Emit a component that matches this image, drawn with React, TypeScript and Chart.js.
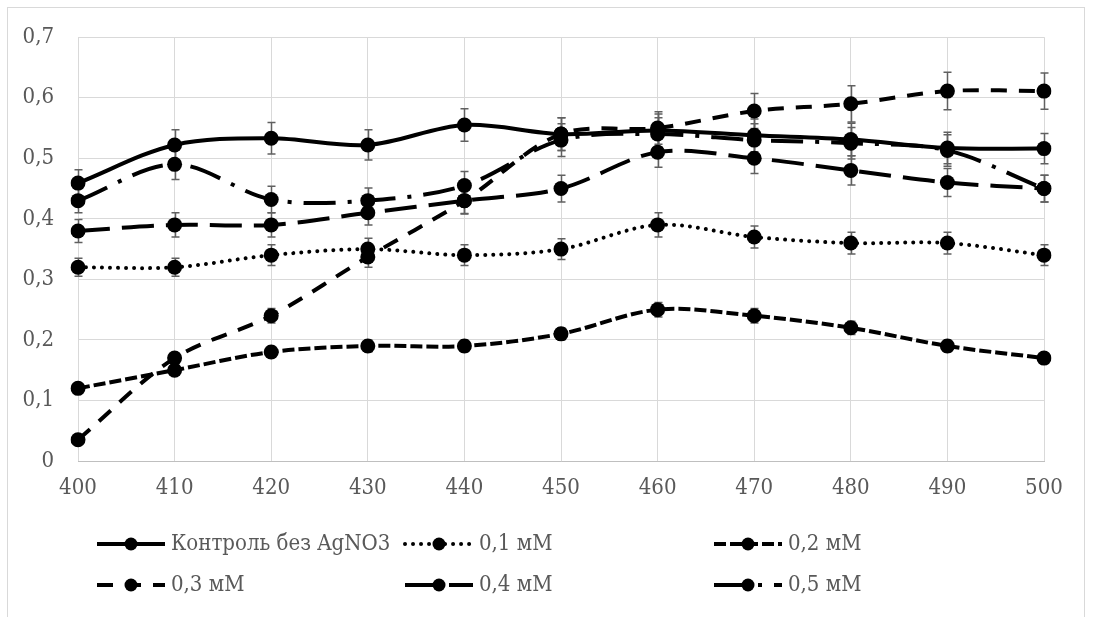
import React, { useEffect, useRef } from "react";
import { Chart, registerables } from "chart.js";

Chart.register(...registerables);

// ---------- data ----------
const wavelengths = ["400", "410", "420", "430", "440", "450", "460", "470", "480", "490", "500"];
const yTicks = [0, 0.1, 0.2, 0.3, 0.4, 0.5, 0.6, 0.7];

const seriesLabels = ["Контроль без AgNO3", "0,1 мМ", "0,2 мМ", "0,3 мМ", "0,4 мМ", "0,5 мМ"];

const control = [0.459, 0.522, 0.533, 0.522, 0.555, 0.54, 0.546, 0.538, 0.531, 0.517, 0.516];
const mM01 = [0.32, 0.32, 0.34, 0.35, 0.34, 0.35, 0.39, 0.37, 0.36, 0.36, 0.34];
const mM02 = [0.12, 0.15, 0.18, 0.19, 0.19, 0.21, 0.25, 0.24, 0.22, 0.19, 0.17];
const mM03 = [0.035, 0.17, 0.24, 0.337, 0.43, 0.54, 0.55, 0.578, 0.59, 0.611, 0.611];
const mM04 = [0.38, 0.39, 0.39, 0.41, 0.43, 0.45, 0.51, 0.5, 0.48, 0.46, 0.45];
const mM05 = [0.43, 0.49, 0.432, 0.43, 0.455, 0.53, 0.54, 0.53, 0.525, 0.513, 0.45];

const errControl = [0.022, 0.025, 0.026, 0.025, 0.027, 0.027, 0.027, 0.027, 0.027, 0.026, 0.025];
const err01 = [0.015, 0.015, 0.017, 0.018, 0.017, 0.017, 0.02, 0.018, 0.018, 0.018, 0.017];
const err02 = [0.006, 0.008, 0.009, 0.01, 0.01, 0.01, 0.012, 0.012, 0.011, 0.01, 0.009];
const err03 = [0.002, 0.008, 0.012, 0.017, 0.021, 0.027, 0.027, 0.029, 0.03, 0.031, 0.03];
const err04 = [0.019, 0.02, 0.02, 0.02, 0.022, 0.022, 0.025, 0.025, 0.024, 0.023, 0.022];
const err05 = [0.02, 0.025, 0.022, 0.021, 0.023, 0.027, 0.027, 0.027, 0.026, 0.026, 0.022];

const seriesValues = [control, mM01, mM02, mM03, mM04, mM05];
const seriesErrors = [errControl, err01, err02, err03, err04, err05];

// ---------- styles ----------
const LW = 4;
const dashes: number[][] = [
  [],
  [0.01, 8],
  [12, 4],
  [16, 12],
  [32, 12],
  [32, 12, 4, 12],
];
const caps = ["butt", "round", "butt", "butt", "butt", "butt"];
const FONT = "'DejaVu Serif Condensed', 'DejaVu Serif', serif";
const FONT_SIZE = 22;
const TEXT = "#595959";

const borderPlugin = {
  id: "outerBorder",
  beforeDraw(chart: any) {
    const ctx = chart.ctx;
    ctx.save();
    ctx.fillStyle = "#ffffff";
    ctx.fillRect(0, 0, chart.width, chart.height);
    ctx.strokeStyle = "#d9d9d9";
    ctx.lineWidth = 1;
    ctx.strokeRect(7.5, 7.5, 1077, 700);
    ctx.restore();
  },
};

const errorBarPlugin = {
  id: "errorBars",
  beforeDatasetsDraw(chart: any) {
    const ctx = chart.ctx;
    const y = chart.scales.y;
    chart.data.datasets.forEach((ds: any, i: number) => {
      const meta = chart.getDatasetMeta(i);
      const errs: number[] = ds.errors || [];
      meta.data.forEach((pt: any, j: number) => {
        const v = ds.data[j];
        const e = errs[j] || 0;
        if (!e) return;
        const x = Math.round(pt.x) + 0.5;
        const top = y.getPixelForValue(v + e);
        const bot = y.getPixelForValue(v - e);
        ctx.save();
        ctx.strokeStyle = "#606060";
        ctx.lineWidth = 1.5;
        ctx.beginPath();
        ctx.moveTo(x, top);
        ctx.lineTo(x, bot);
        ctx.moveTo(x - 4, top);
        ctx.lineTo(x + 4, top);
        ctx.moveTo(x - 4, bot);
        ctx.lineTo(x + 4, bot);
        ctx.stroke();
        ctx.restore();
      });
    });
  },
};

const legendPlugin = {
  id: "customLegend",
  afterDraw(chart: any) {
    const ctx = chart.ctx;
    const colX = [97, 405, 714];
    const rowY = [544, 585];
    const symW = 68;
    chart.data.datasets.forEach((ds: any, i: number) => {
      const x0 = colX[i % 3];
      const y = rowY[Math.floor(i / 3)];
      ctx.save();
      ctx.strokeStyle = ds.borderColor;
      ctx.lineWidth = ds.borderWidth;
      ctx.lineCap = ds.borderCapStyle;
      ctx.setLineDash(ds.borderDash || []);
      ctx.beginPath();
      ctx.moveTo(x0, y);
      ctx.lineTo(x0 + symW, y);
      ctx.stroke();
      ctx.setLineDash([]);
      ctx.fillStyle = ds.pointBackgroundColor;
      ctx.beginPath();
      ctx.arc(x0 + symW / 2, y, 6.5, 0, Math.PI * 2);
      ctx.fill();
      ctx.fillStyle = TEXT;
      ctx.font = `${FONT_SIZE}px ${FONT}`;
      ctx.textBaseline = "middle";
      ctx.textAlign = "left";
      ctx.fillText(ds.label, x0 + symW + 6, y);
      ctx.restore();
    });
  },
};

export default function App() {
  const ref = useRef<HTMLCanvasElement | null>(null);

  useEffect(() => {
    document.body.style.margin = "0";
    if (!ref.current) return;
    const datasets = seriesValues.map((vals, i) => ({
      label: seriesLabels[i],
      data: vals,
      errors: seriesErrors[i],
      borderColor: "#000000",
      backgroundColor: "#000000",
      borderWidth: LW,
      borderDash: dashes[i],
      borderCapStyle: caps[i],
      tension: 0.33,
      pointRadius: 7.5,
      pointBorderWidth: 0,
      pointBackgroundColor: "#000000",
      pointBorderColor: "#000000",
      fill: false,
    }));
    const chart = new Chart(ref.current, {
      type: "line",
      data: { labels: wavelengths, datasets: datasets as any },
      options: {
        responsive: false,
        animation: false,
        layout: { padding: { left: 0, right: 49, top: 37, bottom: 106 } },
        plugins: { legend: { display: false }, tooltip: { enabled: false } },
        scales: {
          x: {
            type: "category",
            offset: false,
            grid: { color: "#d9d9d9", lineWidth: 1, drawTicks: false },
            border: { color: "#bfbfbf", width: 1 },
            ticks: { color: TEXT, font: { family: FONT, size: FONT_SIZE }, padding: 14, maxRotation: 0, autoSkip: false },
            afterFit(scale: any) {
              scale.height = 50;
            },
          },
          y: {
            type: "linear",
            min: yTicks[0],
            max: yTicks[yTicks.length - 1],
            afterBuildTicks(scale: any) {
              scale.ticks = yTicks.map((v) => ({ value: v }));
            },
            grid: { color: "#d9d9d9", lineWidth: 1, drawTicks: false },
            border: { display: false },
            ticks: {
              color: TEXT,
              font: { family: FONT, size: FONT_SIZE },
              padding: 24,
              callback: (v: any) => (v === 0 ? "0" : Number(v).toFixed(1).replace(".", ",")),
            },
            afterFit(scale: any) {
              scale.width = 78;
            },
          },
        },
      },
      plugins: [borderPlugin, errorBarPlugin, legendPlugin],
    });
    return () => chart.destroy();
  }, []);

  return (
    <div style={{ width: 1093, height: 617, position: "relative" }}>
      <canvas ref={ref} width={1093} height={617} style={{ display: "block" }} />
    </div>
  );
}
